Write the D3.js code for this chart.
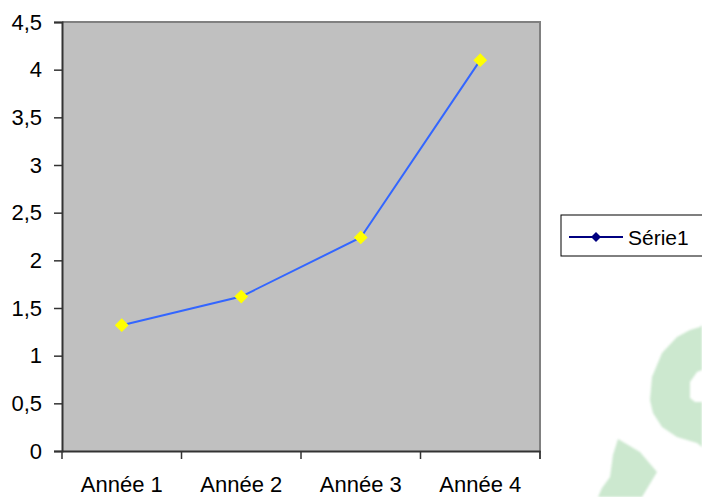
<!DOCTYPE html>
<html>
<head>
<meta charset="utf-8">
<script src="https://cdn.jsdelivr.net/npm/d3@7"></script>
<style>
  html, body { margin: 0; padding: 0; background: #fff; }
  svg { display: block; }
  text { font-family: Arial, "Liberation Sans", sans-serif; fill: #000; }
</style>
</head>
<body>
<svg id="chart" width="702" height="497"></svg>
<script>
// Chart data
const categories = ["Année 1", "Année 2", "Année 3", "Année 4"];
const seriesName = "Série1";
const values = [1.32, 1.62, 2.24, 4.10];
const yTicks = [0, 0.5, 1, 1.5, 2, 2.5, 3, 3.5, 4, 4.5];

const svg = d3.select("#chart");
const plot = { left: 62, top: 22, right: 540, bottom: 451 };

// Faint green logo in the lower-right corner
const logo = svg.append("g").attr("fill", "#cce8cf")
  .style("filter", "blur(0.8px)");
logo.append("path").attr("d",
  "M700,327 L702,325 L702,370 L697,372 L690,382 L690,398 L695,402 L702,402 L702,447 " +
  "L697,443 L677,437 L662,427 L653,413 L650,400 L652,377 L662,353 L677,337 L690,330 Z");
logo.append("path").attr("d",
  "M618,439 L640,452 L657,472 L642,497 L598,497 L602,488 L610,477 L613,455 Z");

const x = d3.scaleBand().domain(categories).range([plot.left, plot.right]);
const y = d3.scaleLinear().domain([0, 4.5]).range([plot.bottom, plot.top]);

// Plot area
svg.append("rect")
  .attr("x", plot.left).attr("y", plot.top)
  .attr("width", plot.right - plot.left).attr("height", plot.bottom - plot.top)
  .attr("fill", "#c0c0c0");
svg.append("path")
  .attr("d", `M${plot.left},${plot.top} H${plot.right} V${plot.bottom + 8}`)
  .attr("fill", "none").attr("stroke", "#808080").attr("stroke-width", 2);

const fmt = d => String(d).replace(".", ",");

// Y axis
const yAxis = svg.append("g")
  .attr("transform", `translate(${plot.left},0)`)
  .call(d3.axisLeft(y).tickValues(yTicks).tickFormat(fmt).tickSize(8).tickPadding(12));
yAxis.select(".domain").attr("stroke", "#333").attr("stroke-width", 2);
yAxis.selectAll(".tick line").attr("stroke", "#333").attr("stroke-width", 1.5);
yAxis.selectAll("text").style("font-size", "22px")
  .attr("font-family", "Arial, 'Liberation Sans', sans-serif").attr("fill", "#000");

// X axis: ticks sit on the category boundaries
const xAxis = svg.append("g")
  .attr("transform", `translate(0,${plot.bottom})`)
  .call(d3.axisBottom(x).tickSize(0).tickPadding(25));
xAxis.select(".domain").attr("stroke", "#333").attr("stroke-width", 2);
xAxis.selectAll(".tick line").remove();
xAxis.selectAll("text").style("font-size", "22px")
  .attr("font-family", "Arial, 'Liberation Sans', sans-serif").attr("fill", "#000");
const bounds = categories.map(c => x(c)).concat([x(categories[categories.length - 1]) + x.bandwidth()]);
xAxis.selectAll(".bound").data(bounds).join("line")
  .attr("class", "bound")
  .attr("x1", d => d).attr("x2", d => d)
  .attr("y1", 0).attr("y2", 8)
  .attr("stroke", "#333").attr("stroke-width", 1.5);

// Series line and markers
const cx = c => x(c) + x.bandwidth() / 2;
const line = d3.line().x((d, i) => cx(categories[i])).y(d => y(d));
svg.append("path").datum(values)
  .attr("d", line)
  .attr("fill", "none").attr("stroke", "#3366ff").attr("stroke-width", 2);

svg.selectAll(".pt").data(values).join("path")
  .attr("class", "pt")
  .attr("d", d3.symbol().type(d3.symbolSquare).size(95))
  .attr("transform", (d, i) => `translate(${cx(categories[i])},${y(d)}) rotate(45)`)
  .attr("fill", "#ffff00");

// Legend
const lg = svg.append("g");
lg.append("rect").attr("x", 561).attr("y", 215).attr("width", 150).attr("height", 41)
  .attr("fill", "#fff").attr("stroke", "#000").attr("stroke-width", 1);
lg.append("line").attr("x1", 569).attr("x2", 623).attr("y1", 237).attr("y2", 237)
  .attr("stroke", "#000080").attr("stroke-width", 2);
lg.append("path")
  .attr("d", d3.symbol().type(d3.symbolSquare).size(50))
  .attr("transform", "translate(596,237) rotate(45)")
  .attr("fill", "#000080");
lg.append("text").attr("x", 628).attr("y", 245)
  .style("font-size", "21px").text(seriesName);
</script>
</body>
</html>
